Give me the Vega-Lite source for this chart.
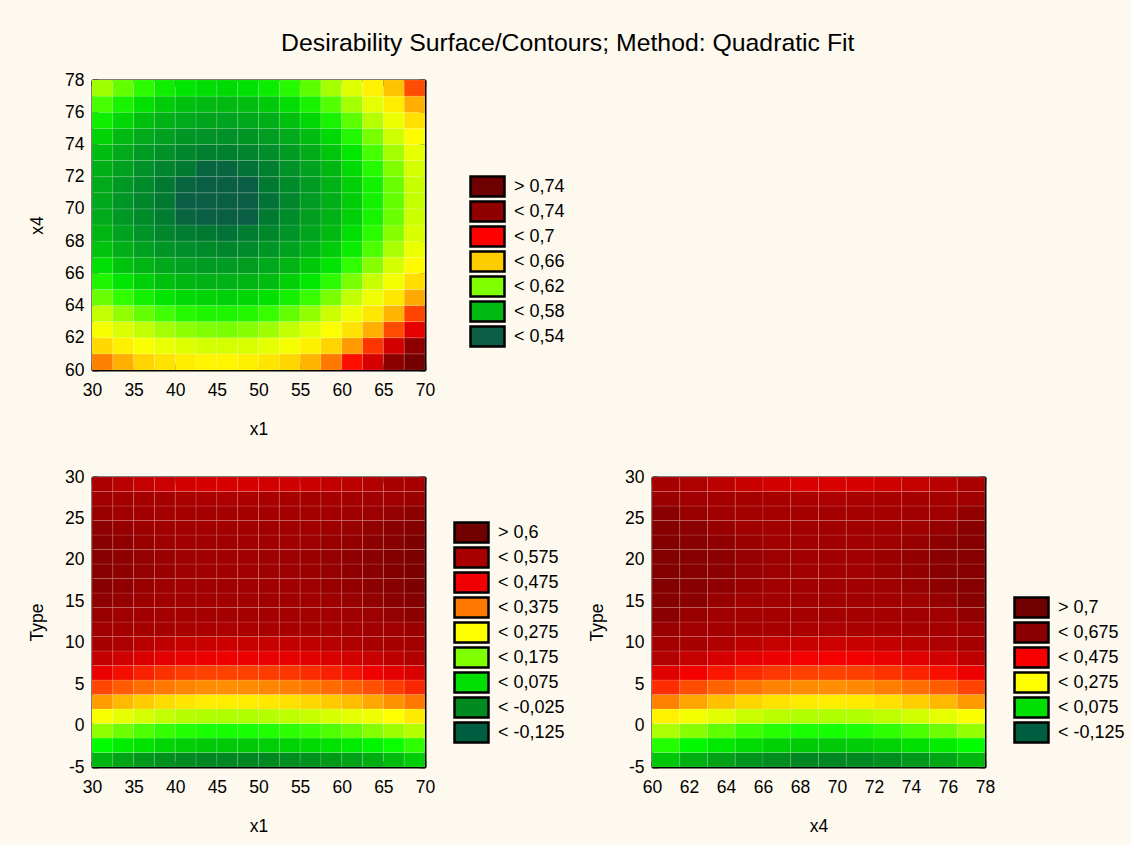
{
"$schema":"https://vega.github.io/schema/vega-lite/v6.json",
"background":"#FEF9EE",
"padding":{"left":28,"right":6,"top":31,"bottom":10},
"title":{"text":"Desirability Surface/Contours; Method: Quadratic Fit","font":"Liberation Sans","fontSize":24.8,"fontWeight":"normal","color":"black","anchor":"middle","offset":15,"dx":-9},
"datasets":{
"top":[
{"x1":31.25,"x4":60.5,"D":0.663},{"x1":33.75,"x4":60.5,"D":0.654},{"x1":36.25,"x4":60.5,"D":0.645},{"x1":38.75,"x4":60.5,"D":0.639},{"x1":41.25,"x4":60.5,"D":0.635},{"x1":43.75,"x4":60.5,"D":0.632},{"x1":46.25,"x4":60.5,"D":0.632},{"x1":48.75,"x4":60.5,"D":0.634},{"x1":51.25,"x4":60.5,"D":0.638},{"x1":53.75,"x4":60.5,"D":0.644},{"x1":56.25,"x4":60.5,"D":0.653},{"x1":58.75,"x4":60.5,"D":0.664},{"x1":61.25,"x4":60.5,"D":0.678},{"x1":63.75,"x4":60.5,"D":0.694},{"x1":66.25,"x4":60.5,"D":0.723},{"x1":68.75,"x4":60.5,"D":0.753},
{"x1":31.25,"x4":61.5,"D":0.643},{"x1":33.75,"x4":61.5,"D":0.634},{"x1":36.25,"x4":61.5,"D":0.626},{"x1":38.75,"x4":61.5,"D":0.621},{"x1":41.25,"x4":61.5,"D":0.617},{"x1":43.75,"x4":61.5,"D":0.614},{"x1":46.25,"x4":61.5,"D":0.614},{"x1":48.75,"x4":61.5,"D":0.615},{"x1":51.25,"x4":61.5,"D":0.619},{"x1":53.75,"x4":61.5,"D":0.625},{"x1":56.25,"x4":61.5,"D":0.634},{"x1":58.75,"x4":61.5,"D":0.645},{"x1":61.25,"x4":61.5,"D":0.658},{"x1":63.75,"x4":61.5,"D":0.673},{"x1":66.25,"x4":61.5,"D":0.695},{"x1":68.75,"x4":61.5,"D":0.72},
{"x1":31.25,"x4":62.5,"D":0.625},{"x1":33.75,"x4":62.5,"D":0.616},{"x1":36.25,"x4":62.5,"D":0.609},{"x1":38.75,"x4":62.5,"D":0.604},{"x1":41.25,"x4":62.5,"D":0.6},{"x1":43.75,"x4":62.5,"D":0.598},{"x1":46.25,"x4":62.5,"D":0.597},{"x1":48.75,"x4":62.5,"D":0.599},{"x1":51.25,"x4":62.5,"D":0.603},{"x1":53.75,"x4":62.5,"D":0.609},{"x1":56.25,"x4":62.5,"D":0.617},{"x1":58.75,"x4":62.5,"D":0.627},{"x1":61.25,"x4":62.5,"D":0.639},{"x1":63.75,"x4":62.5,"D":0.654},{"x1":66.25,"x4":62.5,"D":0.67},{"x1":68.75,"x4":62.5,"D":0.689},
{"x1":31.25,"x4":63.5,"D":0.609},{"x1":33.75,"x4":63.5,"D":0.601},{"x1":36.25,"x4":63.5,"D":0.594},{"x1":38.75,"x4":63.5,"D":0.589},{"x1":41.25,"x4":63.5,"D":0.585},{"x1":43.75,"x4":63.5,"D":0.583},{"x1":46.25,"x4":63.5,"D":0.583},{"x1":48.75,"x4":63.5,"D":0.584},{"x1":51.25,"x4":63.5,"D":0.588},{"x1":53.75,"x4":63.5,"D":0.594},{"x1":56.25,"x4":63.5,"D":0.601},{"x1":58.75,"x4":63.5,"D":0.611},{"x1":61.25,"x4":63.5,"D":0.623},{"x1":63.75,"x4":63.5,"D":0.637},{"x1":66.25,"x4":63.5,"D":0.653},{"x1":68.75,"x4":63.5,"D":0.671},
{"x1":31.25,"x4":64.5,"D":0.595},{"x1":33.75,"x4":64.5,"D":0.587},{"x1":36.25,"x4":64.5,"D":0.581},{"x1":38.75,"x4":64.5,"D":0.576},{"x1":41.25,"x4":64.5,"D":0.573},{"x1":43.75,"x4":64.5,"D":0.571},{"x1":46.25,"x4":64.5,"D":0.57},{"x1":48.75,"x4":64.5,"D":0.572},{"x1":51.25,"x4":64.5,"D":0.575},{"x1":53.75,"x4":64.5,"D":0.581},{"x1":56.25,"x4":64.5,"D":0.588},{"x1":58.75,"x4":64.5,"D":0.597},{"x1":61.25,"x4":64.5,"D":0.609},{"x1":63.75,"x4":64.5,"D":0.622},{"x1":66.25,"x4":64.5,"D":0.637},{"x1":68.75,"x4":64.5,"D":0.655},
{"x1":31.25,"x4":65.5,"D":0.583},{"x1":33.75,"x4":65.5,"D":0.576},{"x1":36.25,"x4":65.5,"D":0.57},{"x1":38.75,"x4":65.5,"D":0.565},{"x1":41.25,"x4":65.5,"D":0.562},{"x1":43.75,"x4":65.5,"D":0.56},{"x1":46.25,"x4":65.5,"D":0.56},{"x1":48.75,"x4":65.5,"D":0.561},{"x1":51.25,"x4":65.5,"D":0.564},{"x1":53.75,"x4":65.5,"D":0.57},{"x1":56.25,"x4":65.5,"D":0.577},{"x1":58.75,"x4":65.5,"D":0.586},{"x1":61.25,"x4":65.5,"D":0.597},{"x1":63.75,"x4":65.5,"D":0.61},{"x1":66.25,"x4":65.5,"D":0.624},{"x1":68.75,"x4":65.5,"D":0.641},
{"x1":31.25,"x4":66.5,"D":0.574},{"x1":33.75,"x4":66.5,"D":0.566},{"x1":36.25,"x4":66.5,"D":0.561},{"x1":38.75,"x4":66.5,"D":0.556},{"x1":41.25,"x4":66.5,"D":0.553},{"x1":43.75,"x4":66.5,"D":0.551},{"x1":46.25,"x4":66.5,"D":0.551},{"x1":48.75,"x4":66.5,"D":0.552},{"x1":51.25,"x4":66.5,"D":0.556},{"x1":53.75,"x4":66.5,"D":0.561},{"x1":56.25,"x4":66.5,"D":0.568},{"x1":58.75,"x4":66.5,"D":0.576},{"x1":61.25,"x4":66.5,"D":0.587},{"x1":63.75,"x4":66.5,"D":0.599},{"x1":66.25,"x4":66.5,"D":0.614},{"x1":68.75,"x4":66.5,"D":0.63},
{"x1":31.25,"x4":67.5,"D":0.566},{"x1":33.75,"x4":67.5,"D":0.559},{"x1":36.25,"x4":67.5,"D":0.553},{"x1":38.75,"x4":67.5,"D":0.549},{"x1":41.25,"x4":67.5,"D":0.546},{"x1":43.75,"x4":67.5,"D":0.545},{"x1":46.25,"x4":67.5,"D":0.544},{"x1":48.75,"x4":67.5,"D":0.545},{"x1":51.25,"x4":67.5,"D":0.549},{"x1":53.75,"x4":67.5,"D":0.554},{"x1":56.25,"x4":67.5,"D":0.56},{"x1":58.75,"x4":67.5,"D":0.569},{"x1":61.25,"x4":67.5,"D":0.579},{"x1":63.75,"x4":67.5,"D":0.591},{"x1":66.25,"x4":67.5,"D":0.605},{"x1":68.75,"x4":67.5,"D":0.621},
{"x1":31.25,"x4":68.5,"D":0.561},{"x1":33.75,"x4":68.5,"D":0.554},{"x1":36.25,"x4":68.5,"D":0.548},{"x1":38.75,"x4":68.5,"D":0.544},{"x1":41.25,"x4":68.5,"D":0.541},{"x1":43.75,"x4":68.5,"D":0.54},{"x1":46.25,"x4":68.5,"D":0.539},{"x1":48.75,"x4":68.5,"D":0.541},{"x1":51.25,"x4":68.5,"D":0.544},{"x1":53.75,"x4":68.5,"D":0.548},{"x1":56.25,"x4":68.5,"D":0.555},{"x1":58.75,"x4":68.5,"D":0.563},{"x1":61.25,"x4":68.5,"D":0.574},{"x1":63.75,"x4":68.5,"D":0.586},{"x1":66.25,"x4":68.5,"D":0.599},{"x1":68.75,"x4":68.5,"D":0.615},
{"x1":31.25,"x4":69.5,"D":0.557},{"x1":33.75,"x4":69.5,"D":0.55},{"x1":36.25,"x4":69.5,"D":0.545},{"x1":38.75,"x4":69.5,"D":0.541},{"x1":41.25,"x4":69.5,"D":0.538},{"x1":43.75,"x4":69.5,"D":0.536},{"x1":46.25,"x4":69.5,"D":0.536},{"x1":48.75,"x4":69.5,"D":0.537},{"x1":51.25,"x4":69.5,"D":0.54},{"x1":53.75,"x4":69.5,"D":0.545},{"x1":56.25,"x4":69.5,"D":0.552},{"x1":58.75,"x4":69.5,"D":0.56},{"x1":61.25,"x4":69.5,"D":0.57},{"x1":63.75,"x4":69.5,"D":0.582},{"x1":66.25,"x4":69.5,"D":0.595},{"x1":68.75,"x4":69.5,"D":0.611},
{"x1":31.25,"x4":70.5,"D":0.556},{"x1":33.75,"x4":70.5,"D":0.549},{"x1":36.25,"x4":70.5,"D":0.544},{"x1":38.75,"x4":70.5,"D":0.54},{"x1":41.25,"x4":70.5,"D":0.537},{"x1":43.75,"x4":70.5,"D":0.535},{"x1":46.25,"x4":70.5,"D":0.535},{"x1":48.75,"x4":70.5,"D":0.536},{"x1":51.25,"x4":70.5,"D":0.539},{"x1":53.75,"x4":70.5,"D":0.544},{"x1":56.25,"x4":70.5,"D":0.551},{"x1":58.75,"x4":70.5,"D":0.559},{"x1":61.25,"x4":70.5,"D":0.569},{"x1":63.75,"x4":70.5,"D":0.581},{"x1":66.25,"x4":70.5,"D":0.594},{"x1":68.75,"x4":70.5,"D":0.609},
{"x1":31.25,"x4":71.5,"D":0.557},{"x1":33.75,"x4":71.5,"D":0.55},{"x1":36.25,"x4":71.5,"D":0.545},{"x1":38.75,"x4":71.5,"D":0.54},{"x1":41.25,"x4":71.5,"D":0.538},{"x1":43.75,"x4":71.5,"D":0.536},{"x1":46.25,"x4":71.5,"D":0.536},{"x1":48.75,"x4":71.5,"D":0.537},{"x1":51.25,"x4":71.5,"D":0.54},{"x1":53.75,"x4":71.5,"D":0.545},{"x1":56.25,"x4":71.5,"D":0.551},{"x1":58.75,"x4":71.5,"D":0.56},{"x1":61.25,"x4":71.5,"D":0.57},{"x1":63.75,"x4":71.5,"D":0.581},{"x1":66.25,"x4":71.5,"D":0.595},{"x1":68.75,"x4":71.5,"D":0.61},
{"x1":31.25,"x4":72.5,"D":0.559},{"x1":33.75,"x4":72.5,"D":0.553},{"x1":36.25,"x4":72.5,"D":0.547},{"x1":38.75,"x4":72.5,"D":0.543},{"x1":41.25,"x4":72.5,"D":0.54},{"x1":43.75,"x4":72.5,"D":0.538},{"x1":46.25,"x4":72.5,"D":0.538},{"x1":48.75,"x4":72.5,"D":0.539},{"x1":51.25,"x4":72.5,"D":0.542},{"x1":53.75,"x4":72.5,"D":0.547},{"x1":56.25,"x4":72.5,"D":0.554},{"x1":58.75,"x4":72.5,"D":0.562},{"x1":61.25,"x4":72.5,"D":0.573},{"x1":63.75,"x4":72.5,"D":0.585},{"x1":66.25,"x4":72.5,"D":0.598},{"x1":68.75,"x4":72.5,"D":0.614},
{"x1":31.25,"x4":73.5,"D":0.564},{"x1":33.75,"x4":73.5,"D":0.557},{"x1":36.25,"x4":73.5,"D":0.551},{"x1":38.75,"x4":73.5,"D":0.547},{"x1":41.25,"x4":73.5,"D":0.544},{"x1":43.75,"x4":73.5,"D":0.542},{"x1":46.25,"x4":73.5,"D":0.542},{"x1":48.75,"x4":73.5,"D":0.543},{"x1":51.25,"x4":73.5,"D":0.546},{"x1":53.75,"x4":73.5,"D":0.551},{"x1":56.25,"x4":73.5,"D":0.558},{"x1":58.75,"x4":73.5,"D":0.567},{"x1":61.25,"x4":73.5,"D":0.577},{"x1":63.75,"x4":73.5,"D":0.59},{"x1":66.25,"x4":73.5,"D":0.604},{"x1":68.75,"x4":73.5,"D":0.62},
{"x1":31.25,"x4":74.5,"D":0.571},{"x1":33.75,"x4":74.5,"D":0.563},{"x1":36.25,"x4":74.5,"D":0.557},{"x1":38.75,"x4":74.5,"D":0.553},{"x1":41.25,"x4":74.5,"D":0.549},{"x1":43.75,"x4":74.5,"D":0.548},{"x1":46.25,"x4":74.5,"D":0.547},{"x1":48.75,"x4":74.5,"D":0.549},{"x1":51.25,"x4":74.5,"D":0.552},{"x1":53.75,"x4":74.5,"D":0.557},{"x1":56.25,"x4":74.5,"D":0.564},{"x1":58.75,"x4":74.5,"D":0.573},{"x1":61.25,"x4":74.5,"D":0.584},{"x1":63.75,"x4":74.5,"D":0.597},{"x1":66.25,"x4":74.5,"D":0.612},{"x1":68.75,"x4":74.5,"D":0.629},
{"x1":31.25,"x4":75.5,"D":0.58},{"x1":33.75,"x4":75.5,"D":0.572},{"x1":36.25,"x4":75.5,"D":0.565},{"x1":38.75,"x4":75.5,"D":0.56},{"x1":41.25,"x4":75.5,"D":0.557},{"x1":43.75,"x4":75.5,"D":0.555},{"x1":46.25,"x4":75.5,"D":0.554},{"x1":48.75,"x4":75.5,"D":0.556},{"x1":51.25,"x4":75.5,"D":0.559},{"x1":53.75,"x4":75.5,"D":0.565},{"x1":56.25,"x4":75.5,"D":0.572},{"x1":58.75,"x4":75.5,"D":0.582},{"x1":61.25,"x4":75.5,"D":0.593},{"x1":63.75,"x4":75.5,"D":0.607},{"x1":66.25,"x4":75.5,"D":0.622},{"x1":68.75,"x4":75.5,"D":0.64},
{"x1":31.25,"x4":76.5,"D":0.59},{"x1":33.75,"x4":76.5,"D":0.582},{"x1":36.25,"x4":76.5,"D":0.575},{"x1":38.75,"x4":76.5,"D":0.569},{"x1":41.25,"x4":76.5,"D":0.565},{"x1":43.75,"x4":76.5,"D":0.563},{"x1":46.25,"x4":76.5,"D":0.563},{"x1":48.75,"x4":76.5,"D":0.564},{"x1":51.25,"x4":76.5,"D":0.568},{"x1":53.75,"x4":76.5,"D":0.574},{"x1":56.25,"x4":76.5,"D":0.582},{"x1":58.75,"x4":76.5,"D":0.592},{"x1":61.25,"x4":76.5,"D":0.604},{"x1":63.75,"x4":76.5,"D":0.619},{"x1":66.25,"x4":76.5,"D":0.635},{"x1":68.75,"x4":76.5,"D":0.654},
{"x1":31.25,"x4":77.5,"D":0.603},{"x1":33.75,"x4":77.5,"D":0.594},{"x1":36.25,"x4":77.5,"D":0.586},{"x1":38.75,"x4":77.5,"D":0.58},{"x1":41.25,"x4":77.5,"D":0.576},{"x1":43.75,"x4":77.5,"D":0.574},{"x1":46.25,"x4":77.5,"D":0.573},{"x1":48.75,"x4":77.5,"D":0.575},{"x1":51.25,"x4":77.5,"D":0.579},{"x1":53.75,"x4":77.5,"D":0.585},{"x1":56.25,"x4":77.5,"D":0.593},{"x1":58.75,"x4":77.5,"D":0.604},{"x1":61.25,"x4":77.5,"D":0.617},{"x1":63.75,"x4":77.5,"D":0.633},{"x1":66.25,"x4":77.5,"D":0.65},{"x1":68.75,"x4":77.5,"D":0.67}
],
"left":[
{"x1":31.25,"Type":-4.125,"D":-0.021},{"x1":33.75,"Type":-4.125,"D":-0.04},{"x1":36.25,"Type":-4.125,"D":-0.055},{"x1":38.75,"Type":-4.125,"D":-0.067},{"x1":41.25,"Type":-4.125,"D":-0.075},{"x1":43.75,"Type":-4.125,"D":-0.08},{"x1":46.25,"Type":-4.125,"D":-0.081},{"x1":48.75,"Type":-4.125,"D":-0.08},{"x1":51.25,"Type":-4.125,"D":-0.076},{"x1":53.75,"Type":-4.125,"D":-0.071},{"x1":56.25,"Type":-4.125,"D":-0.064},{"x1":58.75,"Type":-4.125,"D":-0.054},{"x1":61.25,"Type":-4.125,"D":-0.043},{"x1":63.75,"Type":-4.125,"D":-0.029},{"x1":66.25,"Type":-4.125,"D":-0.013},{"x1":68.75,"Type":-4.125,"D":0.004},
{"x1":31.25,"Type":-2.375,"D":0.061},{"x1":33.75,"Type":-2.375,"D":0.042},{"x1":36.25,"Type":-2.375,"D":0.027},{"x1":38.75,"Type":-2.375,"D":0.015},{"x1":41.25,"Type":-2.375,"D":0.007},{"x1":43.75,"Type":-2.375,"D":0.002},{"x1":46.25,"Type":-2.375,"D":0.001},{"x1":48.75,"Type":-2.375,"D":0.002},{"x1":51.25,"Type":-2.375,"D":0.006},{"x1":53.75,"Type":-2.375,"D":0.011},{"x1":56.25,"Type":-2.375,"D":0.018},{"x1":58.75,"Type":-2.375,"D":0.028},{"x1":61.25,"Type":-2.375,"D":0.039},{"x1":63.75,"Type":-2.375,"D":0.053},{"x1":66.25,"Type":-2.375,"D":0.069},{"x1":68.75,"Type":-2.375,"D":0.086},
{"x1":31.25,"Type":-0.625,"D":0.135},{"x1":33.75,"Type":-0.625,"D":0.116},{"x1":36.25,"Type":-0.625,"D":0.101},{"x1":38.75,"Type":-0.625,"D":0.089},{"x1":41.25,"Type":-0.625,"D":0.081},{"x1":43.75,"Type":-0.625,"D":0.076},{"x1":46.25,"Type":-0.625,"D":0.075},{"x1":48.75,"Type":-0.625,"D":0.076},{"x1":51.25,"Type":-0.625,"D":0.08},{"x1":53.75,"Type":-0.625,"D":0.085},{"x1":56.25,"Type":-0.625,"D":0.092},{"x1":58.75,"Type":-0.625,"D":0.102},{"x1":61.25,"Type":-0.625,"D":0.113},{"x1":63.75,"Type":-0.625,"D":0.127},{"x1":66.25,"Type":-0.625,"D":0.143},{"x1":68.75,"Type":-0.625,"D":0.16},
{"x1":31.25,"Type":1.125,"D":0.216},{"x1":33.75,"Type":1.125,"D":0.197},{"x1":36.25,"Type":1.125,"D":0.182},{"x1":38.75,"Type":1.125,"D":0.17},{"x1":41.25,"Type":1.125,"D":0.162},{"x1":43.75,"Type":1.125,"D":0.157},{"x1":46.25,"Type":1.125,"D":0.156},{"x1":48.75,"Type":1.125,"D":0.157},{"x1":51.25,"Type":1.125,"D":0.161},{"x1":53.75,"Type":1.125,"D":0.166},{"x1":56.25,"Type":1.125,"D":0.173},{"x1":58.75,"Type":1.125,"D":0.183},{"x1":61.25,"Type":1.125,"D":0.194},{"x1":63.75,"Type":1.125,"D":0.208},{"x1":66.25,"Type":1.125,"D":0.224},{"x1":68.75,"Type":1.125,"D":0.241},
{"x1":31.25,"Type":2.875,"D":0.299},{"x1":33.75,"Type":2.875,"D":0.28},{"x1":36.25,"Type":2.875,"D":0.265},{"x1":38.75,"Type":2.875,"D":0.253},{"x1":41.25,"Type":2.875,"D":0.245},{"x1":43.75,"Type":2.875,"D":0.24},{"x1":46.25,"Type":2.875,"D":0.239},{"x1":48.75,"Type":2.875,"D":0.24},{"x1":51.25,"Type":2.875,"D":0.244},{"x1":53.75,"Type":2.875,"D":0.249},{"x1":56.25,"Type":2.875,"D":0.256},{"x1":58.75,"Type":2.875,"D":0.266},{"x1":61.25,"Type":2.875,"D":0.277},{"x1":63.75,"Type":2.875,"D":0.291},{"x1":66.25,"Type":2.875,"D":0.307},{"x1":68.75,"Type":2.875,"D":0.324},
{"x1":31.25,"Type":4.625,"D":0.37},{"x1":33.75,"Type":4.625,"D":0.351},{"x1":36.25,"Type":4.625,"D":0.336},{"x1":38.75,"Type":4.625,"D":0.324},{"x1":41.25,"Type":4.625,"D":0.316},{"x1":43.75,"Type":4.625,"D":0.311},{"x1":46.25,"Type":4.625,"D":0.31},{"x1":48.75,"Type":4.625,"D":0.311},{"x1":51.25,"Type":4.625,"D":0.315},{"x1":53.75,"Type":4.625,"D":0.32},{"x1":56.25,"Type":4.625,"D":0.327},{"x1":58.75,"Type":4.625,"D":0.337},{"x1":61.25,"Type":4.625,"D":0.348},{"x1":63.75,"Type":4.625,"D":0.362},{"x1":66.25,"Type":4.625,"D":0.378},{"x1":68.75,"Type":4.625,"D":0.395},
{"x1":31.25,"Type":6.375,"D":0.433},{"x1":33.75,"Type":6.375,"D":0.414},{"x1":36.25,"Type":6.375,"D":0.399},{"x1":38.75,"Type":6.375,"D":0.387},{"x1":41.25,"Type":6.375,"D":0.379},{"x1":43.75,"Type":6.375,"D":0.374},{"x1":46.25,"Type":6.375,"D":0.373},{"x1":48.75,"Type":6.375,"D":0.374},{"x1":51.25,"Type":6.375,"D":0.378},{"x1":53.75,"Type":6.375,"D":0.383},{"x1":56.25,"Type":6.375,"D":0.39},{"x1":58.75,"Type":6.375,"D":0.4},{"x1":61.25,"Type":6.375,"D":0.411},{"x1":63.75,"Type":6.375,"D":0.425},{"x1":66.25,"Type":6.375,"D":0.441},{"x1":68.75,"Type":6.375,"D":0.458},
{"x1":31.25,"Type":8.125,"D":0.489},{"x1":33.75,"Type":8.125,"D":0.47},{"x1":36.25,"Type":8.125,"D":0.455},{"x1":38.75,"Type":8.125,"D":0.443},{"x1":41.25,"Type":8.125,"D":0.435},{"x1":43.75,"Type":8.125,"D":0.43},{"x1":46.25,"Type":8.125,"D":0.429},{"x1":48.75,"Type":8.125,"D":0.43},{"x1":51.25,"Type":8.125,"D":0.434},{"x1":53.75,"Type":8.125,"D":0.439},{"x1":56.25,"Type":8.125,"D":0.446},{"x1":58.75,"Type":8.125,"D":0.456},{"x1":61.25,"Type":8.125,"D":0.467},{"x1":63.75,"Type":8.125,"D":0.481},{"x1":66.25,"Type":8.125,"D":0.497},{"x1":68.75,"Type":8.125,"D":0.514},
{"x1":31.25,"Type":9.875,"D":0.537},{"x1":33.75,"Type":9.875,"D":0.518},{"x1":36.25,"Type":9.875,"D":0.503},{"x1":38.75,"Type":9.875,"D":0.491},{"x1":41.25,"Type":9.875,"D":0.483},{"x1":43.75,"Type":9.875,"D":0.478},{"x1":46.25,"Type":9.875,"D":0.477},{"x1":48.75,"Type":9.875,"D":0.478},{"x1":51.25,"Type":9.875,"D":0.482},{"x1":53.75,"Type":9.875,"D":0.487},{"x1":56.25,"Type":9.875,"D":0.494},{"x1":58.75,"Type":9.875,"D":0.504},{"x1":61.25,"Type":9.875,"D":0.515},{"x1":63.75,"Type":9.875,"D":0.529},{"x1":66.25,"Type":9.875,"D":0.545},{"x1":68.75,"Type":9.875,"D":0.562},
{"x1":31.25,"Type":11.625,"D":0.578},{"x1":33.75,"Type":11.625,"D":0.559},{"x1":36.25,"Type":11.625,"D":0.544},{"x1":38.75,"Type":11.625,"D":0.532},{"x1":41.25,"Type":11.625,"D":0.524},{"x1":43.75,"Type":11.625,"D":0.519},{"x1":46.25,"Type":11.625,"D":0.518},{"x1":48.75,"Type":11.625,"D":0.519},{"x1":51.25,"Type":11.625,"D":0.523},{"x1":53.75,"Type":11.625,"D":0.528},{"x1":56.25,"Type":11.625,"D":0.535},{"x1":58.75,"Type":11.625,"D":0.545},{"x1":61.25,"Type":11.625,"D":0.556},{"x1":63.75,"Type":11.625,"D":0.57},{"x1":66.25,"Type":11.625,"D":0.586},{"x1":68.75,"Type":11.625,"D":0.603},
{"x1":31.25,"Type":13.375,"D":0.607},{"x1":33.75,"Type":13.375,"D":0.588},{"x1":36.25,"Type":13.375,"D":0.573},{"x1":38.75,"Type":13.375,"D":0.561},{"x1":41.25,"Type":13.375,"D":0.553},{"x1":43.75,"Type":13.375,"D":0.548},{"x1":46.25,"Type":13.375,"D":0.547},{"x1":48.75,"Type":13.375,"D":0.548},{"x1":51.25,"Type":13.375,"D":0.552},{"x1":53.75,"Type":13.375,"D":0.557},{"x1":56.25,"Type":13.375,"D":0.564},{"x1":58.75,"Type":13.375,"D":0.574},{"x1":61.25,"Type":13.375,"D":0.585},{"x1":63.75,"Type":13.375,"D":0.599},{"x1":66.25,"Type":13.375,"D":0.615},{"x1":68.75,"Type":13.375,"D":0.632},
{"x1":31.25,"Type":15.125,"D":0.628},{"x1":33.75,"Type":15.125,"D":0.609},{"x1":36.25,"Type":15.125,"D":0.594},{"x1":38.75,"Type":15.125,"D":0.582},{"x1":41.25,"Type":15.125,"D":0.574},{"x1":43.75,"Type":15.125,"D":0.569},{"x1":46.25,"Type":15.125,"D":0.568},{"x1":48.75,"Type":15.125,"D":0.569},{"x1":51.25,"Type":15.125,"D":0.573},{"x1":53.75,"Type":15.125,"D":0.578},{"x1":56.25,"Type":15.125,"D":0.585},{"x1":58.75,"Type":15.125,"D":0.595},{"x1":61.25,"Type":15.125,"D":0.606},{"x1":63.75,"Type":15.125,"D":0.62},{"x1":66.25,"Type":15.125,"D":0.636},{"x1":68.75,"Type":15.125,"D":0.653},
{"x1":31.25,"Type":16.875,"D":0.641},{"x1":33.75,"Type":16.875,"D":0.622},{"x1":36.25,"Type":16.875,"D":0.607},{"x1":38.75,"Type":16.875,"D":0.595},{"x1":41.25,"Type":16.875,"D":0.587},{"x1":43.75,"Type":16.875,"D":0.582},{"x1":46.25,"Type":16.875,"D":0.581},{"x1":48.75,"Type":16.875,"D":0.582},{"x1":51.25,"Type":16.875,"D":0.586},{"x1":53.75,"Type":16.875,"D":0.591},{"x1":56.25,"Type":16.875,"D":0.598},{"x1":58.75,"Type":16.875,"D":0.608},{"x1":61.25,"Type":16.875,"D":0.619},{"x1":63.75,"Type":16.875,"D":0.633},{"x1":66.25,"Type":16.875,"D":0.649},{"x1":68.75,"Type":16.875,"D":0.666},
{"x1":31.25,"Type":18.625,"D":0.647},{"x1":33.75,"Type":18.625,"D":0.628},{"x1":36.25,"Type":18.625,"D":0.613},{"x1":38.75,"Type":18.625,"D":0.601},{"x1":41.25,"Type":18.625,"D":0.593},{"x1":43.75,"Type":18.625,"D":0.588},{"x1":46.25,"Type":18.625,"D":0.587},{"x1":48.75,"Type":18.625,"D":0.588},{"x1":51.25,"Type":18.625,"D":0.592},{"x1":53.75,"Type":18.625,"D":0.597},{"x1":56.25,"Type":18.625,"D":0.604},{"x1":58.75,"Type":18.625,"D":0.614},{"x1":61.25,"Type":18.625,"D":0.625},{"x1":63.75,"Type":18.625,"D":0.639},{"x1":66.25,"Type":18.625,"D":0.655},{"x1":68.75,"Type":18.625,"D":0.672},
{"x1":31.25,"Type":20.375,"D":0.647},{"x1":33.75,"Type":20.375,"D":0.628},{"x1":36.25,"Type":20.375,"D":0.613},{"x1":38.75,"Type":20.375,"D":0.601},{"x1":41.25,"Type":20.375,"D":0.593},{"x1":43.75,"Type":20.375,"D":0.588},{"x1":46.25,"Type":20.375,"D":0.587},{"x1":48.75,"Type":20.375,"D":0.588},{"x1":51.25,"Type":20.375,"D":0.592},{"x1":53.75,"Type":20.375,"D":0.597},{"x1":56.25,"Type":20.375,"D":0.604},{"x1":58.75,"Type":20.375,"D":0.614},{"x1":61.25,"Type":20.375,"D":0.625},{"x1":63.75,"Type":20.375,"D":0.639},{"x1":66.25,"Type":20.375,"D":0.655},{"x1":68.75,"Type":20.375,"D":0.672},
{"x1":31.25,"Type":22.125,"D":0.641},{"x1":33.75,"Type":22.125,"D":0.622},{"x1":36.25,"Type":22.125,"D":0.607},{"x1":38.75,"Type":22.125,"D":0.595},{"x1":41.25,"Type":22.125,"D":0.587},{"x1":43.75,"Type":22.125,"D":0.582},{"x1":46.25,"Type":22.125,"D":0.581},{"x1":48.75,"Type":22.125,"D":0.582},{"x1":51.25,"Type":22.125,"D":0.586},{"x1":53.75,"Type":22.125,"D":0.591},{"x1":56.25,"Type":22.125,"D":0.598},{"x1":58.75,"Type":22.125,"D":0.608},{"x1":61.25,"Type":22.125,"D":0.619},{"x1":63.75,"Type":22.125,"D":0.633},{"x1":66.25,"Type":22.125,"D":0.649},{"x1":68.75,"Type":22.125,"D":0.666},
{"x1":31.25,"Type":23.875,"D":0.628},{"x1":33.75,"Type":23.875,"D":0.609},{"x1":36.25,"Type":23.875,"D":0.594},{"x1":38.75,"Type":23.875,"D":0.582},{"x1":41.25,"Type":23.875,"D":0.574},{"x1":43.75,"Type":23.875,"D":0.569},{"x1":46.25,"Type":23.875,"D":0.568},{"x1":48.75,"Type":23.875,"D":0.569},{"x1":51.25,"Type":23.875,"D":0.573},{"x1":53.75,"Type":23.875,"D":0.578},{"x1":56.25,"Type":23.875,"D":0.585},{"x1":58.75,"Type":23.875,"D":0.595},{"x1":61.25,"Type":23.875,"D":0.606},{"x1":63.75,"Type":23.875,"D":0.62},{"x1":66.25,"Type":23.875,"D":0.636},{"x1":68.75,"Type":23.875,"D":0.653},
{"x1":31.25,"Type":25.625,"D":0.607},{"x1":33.75,"Type":25.625,"D":0.588},{"x1":36.25,"Type":25.625,"D":0.573},{"x1":38.75,"Type":25.625,"D":0.561},{"x1":41.25,"Type":25.625,"D":0.553},{"x1":43.75,"Type":25.625,"D":0.548},{"x1":46.25,"Type":25.625,"D":0.547},{"x1":48.75,"Type":25.625,"D":0.548},{"x1":51.25,"Type":25.625,"D":0.552},{"x1":53.75,"Type":25.625,"D":0.557},{"x1":56.25,"Type":25.625,"D":0.564},{"x1":58.75,"Type":25.625,"D":0.574},{"x1":61.25,"Type":25.625,"D":0.585},{"x1":63.75,"Type":25.625,"D":0.599},{"x1":66.25,"Type":25.625,"D":0.615},{"x1":68.75,"Type":25.625,"D":0.632},
{"x1":31.25,"Type":27.375,"D":0.578},{"x1":33.75,"Type":27.375,"D":0.559},{"x1":36.25,"Type":27.375,"D":0.544},{"x1":38.75,"Type":27.375,"D":0.532},{"x1":41.25,"Type":27.375,"D":0.524},{"x1":43.75,"Type":27.375,"D":0.519},{"x1":46.25,"Type":27.375,"D":0.518},{"x1":48.75,"Type":27.375,"D":0.519},{"x1":51.25,"Type":27.375,"D":0.523},{"x1":53.75,"Type":27.375,"D":0.528},{"x1":56.25,"Type":27.375,"D":0.535},{"x1":58.75,"Type":27.375,"D":0.545},{"x1":61.25,"Type":27.375,"D":0.556},{"x1":63.75,"Type":27.375,"D":0.57},{"x1":66.25,"Type":27.375,"D":0.586},{"x1":68.75,"Type":27.375,"D":0.603},
{"x1":31.25,"Type":29.125,"D":0.52},{"x1":33.75,"Type":29.125,"D":0.501},{"x1":36.25,"Type":29.125,"D":0.486},{"x1":38.75,"Type":29.125,"D":0.474},{"x1":41.25,"Type":29.125,"D":0.466},{"x1":43.75,"Type":29.125,"D":0.461},{"x1":46.25,"Type":29.125,"D":0.46},{"x1":48.75,"Type":29.125,"D":0.461},{"x1":51.25,"Type":29.125,"D":0.465},{"x1":53.75,"Type":29.125,"D":0.47},{"x1":56.25,"Type":29.125,"D":0.477},{"x1":58.75,"Type":29.125,"D":0.487},{"x1":61.25,"Type":29.125,"D":0.498},{"x1":63.75,"Type":29.125,"D":0.512},{"x1":66.25,"Type":29.125,"D":0.528},{"x1":68.75,"Type":29.125,"D":0.545}
],
"right":[
{"x4":60.75,"Type":-4.125,"D":-0.051},{"x4":62.25,"Type":-4.125,"D":-0.076},{"x4":63.75,"Type":-4.125,"D":-0.096},{"x4":65.25,"Type":-4.125,"D":-0.112},{"x4":66.75,"Type":-4.125,"D":-0.123},{"x4":68.25,"Type":-4.125,"D":-0.129},{"x4":69.75,"Type":-4.125,"D":-0.131},{"x4":71.25,"Type":-4.125,"D":-0.128},{"x4":72.75,"Type":-4.125,"D":-0.12},{"x4":74.25,"Type":-4.125,"D":-0.107},{"x4":75.75,"Type":-4.125,"D":-0.09},{"x4":77.25,"Type":-4.125,"D":-0.068},
{"x4":60.75,"Type":-2.375,"D":0.031},{"x4":62.25,"Type":-2.375,"D":0.006},{"x4":63.75,"Type":-2.375,"D":-0.014},{"x4":65.25,"Type":-2.375,"D":-0.03},{"x4":66.75,"Type":-2.375,"D":-0.041},{"x4":68.25,"Type":-2.375,"D":-0.047},{"x4":69.75,"Type":-2.375,"D":-0.049},{"x4":71.25,"Type":-2.375,"D":-0.046},{"x4":72.75,"Type":-2.375,"D":-0.038},{"x4":74.25,"Type":-2.375,"D":-0.025},{"x4":75.75,"Type":-2.375,"D":-0.008},{"x4":77.25,"Type":-2.375,"D":0.014},
{"x4":60.75,"Type":-0.625,"D":0.105},{"x4":62.25,"Type":-0.625,"D":0.08},{"x4":63.75,"Type":-0.625,"D":0.06},{"x4":65.25,"Type":-0.625,"D":0.044},{"x4":66.75,"Type":-0.625,"D":0.033},{"x4":68.25,"Type":-0.625,"D":0.027},{"x4":69.75,"Type":-0.625,"D":0.025},{"x4":71.25,"Type":-0.625,"D":0.028},{"x4":72.75,"Type":-0.625,"D":0.036},{"x4":74.25,"Type":-0.625,"D":0.049},{"x4":75.75,"Type":-0.625,"D":0.066},{"x4":77.25,"Type":-0.625,"D":0.088},
{"x4":60.75,"Type":1.125,"D":0.186},{"x4":62.25,"Type":1.125,"D":0.161},{"x4":63.75,"Type":1.125,"D":0.141},{"x4":65.25,"Type":1.125,"D":0.125},{"x4":66.75,"Type":1.125,"D":0.114},{"x4":68.25,"Type":1.125,"D":0.108},{"x4":69.75,"Type":1.125,"D":0.106},{"x4":71.25,"Type":1.125,"D":0.109},{"x4":72.75,"Type":1.125,"D":0.117},{"x4":74.25,"Type":1.125,"D":0.13},{"x4":75.75,"Type":1.125,"D":0.147},{"x4":77.25,"Type":1.125,"D":0.169},
{"x4":60.75,"Type":2.875,"D":0.269},{"x4":62.25,"Type":2.875,"D":0.244},{"x4":63.75,"Type":2.875,"D":0.224},{"x4":65.25,"Type":2.875,"D":0.208},{"x4":66.75,"Type":2.875,"D":0.197},{"x4":68.25,"Type":2.875,"D":0.191},{"x4":69.75,"Type":2.875,"D":0.189},{"x4":71.25,"Type":2.875,"D":0.192},{"x4":72.75,"Type":2.875,"D":0.2},{"x4":74.25,"Type":2.875,"D":0.213},{"x4":75.75,"Type":2.875,"D":0.23},{"x4":77.25,"Type":2.875,"D":0.252},
{"x4":60.75,"Type":4.625,"D":0.34},{"x4":62.25,"Type":4.625,"D":0.315},{"x4":63.75,"Type":4.625,"D":0.295},{"x4":65.25,"Type":4.625,"D":0.279},{"x4":66.75,"Type":4.625,"D":0.268},{"x4":68.25,"Type":4.625,"D":0.262},{"x4":69.75,"Type":4.625,"D":0.26},{"x4":71.25,"Type":4.625,"D":0.263},{"x4":72.75,"Type":4.625,"D":0.271},{"x4":74.25,"Type":4.625,"D":0.284},{"x4":75.75,"Type":4.625,"D":0.301},{"x4":77.25,"Type":4.625,"D":0.323},
{"x4":60.75,"Type":6.375,"D":0.403},{"x4":62.25,"Type":6.375,"D":0.378},{"x4":63.75,"Type":6.375,"D":0.358},{"x4":65.25,"Type":6.375,"D":0.342},{"x4":66.75,"Type":6.375,"D":0.331},{"x4":68.25,"Type":6.375,"D":0.325},{"x4":69.75,"Type":6.375,"D":0.323},{"x4":71.25,"Type":6.375,"D":0.326},{"x4":72.75,"Type":6.375,"D":0.334},{"x4":74.25,"Type":6.375,"D":0.347},{"x4":75.75,"Type":6.375,"D":0.364},{"x4":77.25,"Type":6.375,"D":0.386},
{"x4":60.75,"Type":8.125,"D":0.459},{"x4":62.25,"Type":8.125,"D":0.434},{"x4":63.75,"Type":8.125,"D":0.414},{"x4":65.25,"Type":8.125,"D":0.398},{"x4":66.75,"Type":8.125,"D":0.387},{"x4":68.25,"Type":8.125,"D":0.381},{"x4":69.75,"Type":8.125,"D":0.379},{"x4":71.25,"Type":8.125,"D":0.382},{"x4":72.75,"Type":8.125,"D":0.39},{"x4":74.25,"Type":8.125,"D":0.403},{"x4":75.75,"Type":8.125,"D":0.42},{"x4":77.25,"Type":8.125,"D":0.442},
{"x4":60.75,"Type":9.875,"D":0.507},{"x4":62.25,"Type":9.875,"D":0.482},{"x4":63.75,"Type":9.875,"D":0.462},{"x4":65.25,"Type":9.875,"D":0.446},{"x4":66.75,"Type":9.875,"D":0.435},{"x4":68.25,"Type":9.875,"D":0.429},{"x4":69.75,"Type":9.875,"D":0.427},{"x4":71.25,"Type":9.875,"D":0.43},{"x4":72.75,"Type":9.875,"D":0.438},{"x4":74.25,"Type":9.875,"D":0.451},{"x4":75.75,"Type":9.875,"D":0.468},{"x4":77.25,"Type":9.875,"D":0.49},
{"x4":60.75,"Type":11.625,"D":0.548},{"x4":62.25,"Type":11.625,"D":0.523},{"x4":63.75,"Type":11.625,"D":0.503},{"x4":65.25,"Type":11.625,"D":0.487},{"x4":66.75,"Type":11.625,"D":0.476},{"x4":68.25,"Type":11.625,"D":0.47},{"x4":69.75,"Type":11.625,"D":0.468},{"x4":71.25,"Type":11.625,"D":0.471},{"x4":72.75,"Type":11.625,"D":0.479},{"x4":74.25,"Type":11.625,"D":0.492},{"x4":75.75,"Type":11.625,"D":0.509},{"x4":77.25,"Type":11.625,"D":0.531},
{"x4":60.75,"Type":13.375,"D":0.577},{"x4":62.25,"Type":13.375,"D":0.552},{"x4":63.75,"Type":13.375,"D":0.532},{"x4":65.25,"Type":13.375,"D":0.516},{"x4":66.75,"Type":13.375,"D":0.505},{"x4":68.25,"Type":13.375,"D":0.499},{"x4":69.75,"Type":13.375,"D":0.497},{"x4":71.25,"Type":13.375,"D":0.5},{"x4":72.75,"Type":13.375,"D":0.508},{"x4":74.25,"Type":13.375,"D":0.521},{"x4":75.75,"Type":13.375,"D":0.538},{"x4":77.25,"Type":13.375,"D":0.56},
{"x4":60.75,"Type":15.125,"D":0.598},{"x4":62.25,"Type":15.125,"D":0.573},{"x4":63.75,"Type":15.125,"D":0.553},{"x4":65.25,"Type":15.125,"D":0.537},{"x4":66.75,"Type":15.125,"D":0.526},{"x4":68.25,"Type":15.125,"D":0.52},{"x4":69.75,"Type":15.125,"D":0.518},{"x4":71.25,"Type":15.125,"D":0.521},{"x4":72.75,"Type":15.125,"D":0.529},{"x4":74.25,"Type":15.125,"D":0.542},{"x4":75.75,"Type":15.125,"D":0.559},{"x4":77.25,"Type":15.125,"D":0.581},
{"x4":60.75,"Type":16.875,"D":0.611},{"x4":62.25,"Type":16.875,"D":0.586},{"x4":63.75,"Type":16.875,"D":0.566},{"x4":65.25,"Type":16.875,"D":0.55},{"x4":66.75,"Type":16.875,"D":0.539},{"x4":68.25,"Type":16.875,"D":0.533},{"x4":69.75,"Type":16.875,"D":0.531},{"x4":71.25,"Type":16.875,"D":0.534},{"x4":72.75,"Type":16.875,"D":0.542},{"x4":74.25,"Type":16.875,"D":0.555},{"x4":75.75,"Type":16.875,"D":0.572},{"x4":77.25,"Type":16.875,"D":0.594},
{"x4":60.75,"Type":18.625,"D":0.617},{"x4":62.25,"Type":18.625,"D":0.592},{"x4":63.75,"Type":18.625,"D":0.572},{"x4":65.25,"Type":18.625,"D":0.556},{"x4":66.75,"Type":18.625,"D":0.545},{"x4":68.25,"Type":18.625,"D":0.539},{"x4":69.75,"Type":18.625,"D":0.537},{"x4":71.25,"Type":18.625,"D":0.54},{"x4":72.75,"Type":18.625,"D":0.548},{"x4":74.25,"Type":18.625,"D":0.561},{"x4":75.75,"Type":18.625,"D":0.578},{"x4":77.25,"Type":18.625,"D":0.6},
{"x4":60.75,"Type":20.375,"D":0.617},{"x4":62.25,"Type":20.375,"D":0.592},{"x4":63.75,"Type":20.375,"D":0.572},{"x4":65.25,"Type":20.375,"D":0.556},{"x4":66.75,"Type":20.375,"D":0.545},{"x4":68.25,"Type":20.375,"D":0.539},{"x4":69.75,"Type":20.375,"D":0.537},{"x4":71.25,"Type":20.375,"D":0.54},{"x4":72.75,"Type":20.375,"D":0.548},{"x4":74.25,"Type":20.375,"D":0.561},{"x4":75.75,"Type":20.375,"D":0.578},{"x4":77.25,"Type":20.375,"D":0.6},
{"x4":60.75,"Type":22.125,"D":0.611},{"x4":62.25,"Type":22.125,"D":0.586},{"x4":63.75,"Type":22.125,"D":0.566},{"x4":65.25,"Type":22.125,"D":0.55},{"x4":66.75,"Type":22.125,"D":0.539},{"x4":68.25,"Type":22.125,"D":0.533},{"x4":69.75,"Type":22.125,"D":0.531},{"x4":71.25,"Type":22.125,"D":0.534},{"x4":72.75,"Type":22.125,"D":0.542},{"x4":74.25,"Type":22.125,"D":0.555},{"x4":75.75,"Type":22.125,"D":0.572},{"x4":77.25,"Type":22.125,"D":0.594},
{"x4":60.75,"Type":23.875,"D":0.598},{"x4":62.25,"Type":23.875,"D":0.573},{"x4":63.75,"Type":23.875,"D":0.553},{"x4":65.25,"Type":23.875,"D":0.537},{"x4":66.75,"Type":23.875,"D":0.526},{"x4":68.25,"Type":23.875,"D":0.52},{"x4":69.75,"Type":23.875,"D":0.518},{"x4":71.25,"Type":23.875,"D":0.521},{"x4":72.75,"Type":23.875,"D":0.529},{"x4":74.25,"Type":23.875,"D":0.542},{"x4":75.75,"Type":23.875,"D":0.559},{"x4":77.25,"Type":23.875,"D":0.581},
{"x4":60.75,"Type":25.625,"D":0.577},{"x4":62.25,"Type":25.625,"D":0.552},{"x4":63.75,"Type":25.625,"D":0.532},{"x4":65.25,"Type":25.625,"D":0.516},{"x4":66.75,"Type":25.625,"D":0.505},{"x4":68.25,"Type":25.625,"D":0.499},{"x4":69.75,"Type":25.625,"D":0.497},{"x4":71.25,"Type":25.625,"D":0.5},{"x4":72.75,"Type":25.625,"D":0.508},{"x4":74.25,"Type":25.625,"D":0.521},{"x4":75.75,"Type":25.625,"D":0.538},{"x4":77.25,"Type":25.625,"D":0.56},
{"x4":60.75,"Type":27.375,"D":0.548},{"x4":62.25,"Type":27.375,"D":0.523},{"x4":63.75,"Type":27.375,"D":0.503},{"x4":65.25,"Type":27.375,"D":0.487},{"x4":66.75,"Type":27.375,"D":0.476},{"x4":68.25,"Type":27.375,"D":0.47},{"x4":69.75,"Type":27.375,"D":0.468},{"x4":71.25,"Type":27.375,"D":0.471},{"x4":72.75,"Type":27.375,"D":0.479},{"x4":74.25,"Type":27.375,"D":0.492},{"x4":75.75,"Type":27.375,"D":0.509},{"x4":77.25,"Type":27.375,"D":0.531},
{"x4":60.75,"Type":29.125,"D":0.49},{"x4":62.25,"Type":29.125,"D":0.465},{"x4":63.75,"Type":29.125,"D":0.445},{"x4":65.25,"Type":29.125,"D":0.429},{"x4":66.75,"Type":29.125,"D":0.418},{"x4":68.25,"Type":29.125,"D":0.412},{"x4":69.75,"Type":29.125,"D":0.41},{"x4":71.25,"Type":29.125,"D":0.413},{"x4":72.75,"Type":29.125,"D":0.421},{"x4":74.25,"Type":29.125,"D":0.434},{"x4":75.75,"Type":29.125,"D":0.451},{"x4":77.25,"Type":29.125,"D":0.473}
]
},
"bounds":"flush",
"spacing":107,
"resolve":{"scale":{"color":"independent"},"legend":{"color":"independent"}},
"vconcat":[
{
"width":333,"height":290,
"resolve":{"axis":{"x":"independent","y":"independent"}},
"layer":[
{"data":{"name":"top"},
"mark":{"type":"rect","width":20.8125,"height":16.111,"stroke":"#FFFFFF","strokeOpacity":0.22,"strokeWidth":0.6,"clip":true},
"encoding":{
"x":{"field":"x1","type":"quantitative","scale":{"domain":[30,70],"nice":false,"zero":false},"axis":{"orient":"bottom","values":[30,35,40,45,50,55,60,65,70],"title":"x1"}},
"y":{"field":"x4","type":"quantitative","scale":{"domain":[60,78],"nice":false,"zero":false},"axis":{"orient":"left","values":[60,62,64,66,68,70,72,74,76,78],"title":"x4"}},
"color":{"field":"D","type":"quantitative","scale":{"type":"linear","interpolate":"rgb","clamp":true,"domain":[0.535,0.5375,0.5395,0.546,0.553,0.561,0.569,0.577,0.587,0.598,0.61,0.628,0.648,0.662,0.68,0.718,0.76],"range":["#0A5E44","#0A5E44","#007832","#008E2A","#00A020","#00B414","#00CC08","#00E800","#30FF00","#80FF00","#C8FF00","#FFFF00","#FFCC00","#FF8800","#FF0000","#900000","#6E0000"]},
"legend":{"type":"symbol","values":[0.76,0.718,0.68,0.648,0.598,0.563,0.535],"orient":"none","legendX":386,"legendY":97,"title":null,"symbolType":"M-2.125,-1.25H2.125V1.25H-2.125Z","symbolSize":256,
"labelExpr":"datum.value > 0.75 ? '> 0,74' : datum.value > 0.7 ? '< 0,74' : datum.value > 0.66 ? '< 0,7' : datum.value > 0.62 ? '< 0,66' : datum.value > 0.58 ? '< 0,62' : datum.value > 0.55 ? '< 0,58' : '< 0,54'",
"encode":{"symbols":{"update":{"stroke":{"value":"black"},"strokeWidth":{"value":2.5},"strokeOpacity":{"value":1},"opacity":{"value":1}}}}}}
}},
{"data":{"values":[{}]},
"mark":{"type":"point","opacity":0},
"encoding":{
"x":{"datum":50,"type":"quantitative","scale":{"domain":[30,70],"nice":false,"zero":false},"axis":{"orient":"top","values":[30,35,40,45,50,55,60,65,70],"labels":false,"title":null}},
"y":{"datum":70,"type":"quantitative","scale":{"domain":[60,78],"nice":false,"zero":false},"axis":{"orient":"right","values":[60,62,64,66,68,70,72,74,76,78],"labels":false,"title":null}}
}}
]
},
{
"hconcat":[
{
"width":333,"height":290,
"resolve":{"axis":{"x":"independent","y":"independent"}},
"layer":[
{"data":{"name":"left"},
"mark":{"type":"rect","width":20.8125,"height":14.5,"stroke":"#FFFFFF","strokeOpacity":0.22,"strokeWidth":0.6,"clip":true},
"encoding":{
"x":{"field":"x1","type":"quantitative","scale":{"domain":[30,70],"nice":false,"zero":false},"axis":{"orient":"bottom","values":[30,35,40,45,50,55,60,65,70],"title":"x1"}},
"y":{"field":"Type","type":"quantitative","scale":{"domain":[-5,30],"nice":false,"zero":false},"axis":{"orient":"left","values":[-5,0,5,10,15,20,25,30],"title":"Type","labelExpr":"'' + datum.value"}},
"color":{"field":"D","type":"quantitative","scale":{"type":"linear","interpolate":"rgb","clamp":true,"domain":[-0.175,-0.12,-0.075,-0.025,0.025,0.065,0.125,0.19,0.225,0.275,0.325,0.375,0.425,0.48,0.525,0.59,0.625,0.7],"range":["#005E40","#006A35","#008A20","#00B010","#00E000","#00FF00","#80FF00","#E0FF00","#FFFF00","#FFC000","#FF7800","#FF4000","#F00000","#C80000","#A80000","#A00000","#900000","#700000"]},
"legend":{"type":"symbol","values":[0.7,0.525,0.425,0.325,0.225,0.125,0.025,-0.075,-0.175],"orient":"none","legendX":370,"legendY":46,"title":null,"symbolType":"M-2.125,-1.25H2.125V1.25H-2.125Z","symbolSize":256,
"labelExpr":"datum.value > 0.6 ? '> 0,6' : datum.value > 0.5 ? '< 0,575' : datum.value > 0.4 ? '< 0,475' : datum.value > 0.3 ? '< 0,375' : datum.value > 0.2 ? '< 0,275' : datum.value > 0.1 ? '< 0,175' : datum.value > 0 ? '< 0,075' : datum.value > -0.1 ? '< -0,025' : '< -0,125'",
"encode":{"symbols":{"update":{"stroke":{"value":"black"},"strokeWidth":{"value":2.5},"strokeOpacity":{"value":1},"opacity":{"value":1}}}}}}
}},
{"data":{"values":[{}]},
"mark":{"type":"point","opacity":0},
"encoding":{
"x":{"datum":50,"type":"quantitative","scale":{"domain":[30,70],"nice":false,"zero":false},"axis":{"orient":"top","values":[30,35,40,45,50,55,60,65,70],"labels":false,"title":null}},
"y":{"datum":10,"type":"quantitative","scale":{"domain":[-5,30],"nice":false,"zero":false},"axis":{"orient":"right","values":[-5,0,5,10,15,20,25,30],"labels":false,"title":null}}
}}
]
},
{
"width":333,"height":290,
"resolve":{"axis":{"x":"independent","y":"independent"}},
"layer":[
{"data":{"name":"right"},
"mark":{"type":"rect","width":27.75,"height":14.5,"stroke":"#FFFFFF","strokeOpacity":0.22,"strokeWidth":0.6,"clip":true},
"encoding":{
"x":{"field":"x4","type":"quantitative","scale":{"domain":[60,78],"nice":false,"zero":false},"axis":{"orient":"bottom","values":[60,62,64,66,68,70,72,74,76,78],"title":"x4"}},
"y":{"field":"Type","type":"quantitative","scale":{"domain":[-5,30],"nice":false,"zero":false},"axis":{"orient":"left","values":[-5,0,5,10,15,20,25,30],"title":"Type","labelExpr":"'' + datum.value"}},
"color":{"field":"D","type":"quantitative","scale":{"type":"linear","interpolate":"rgb","clamp":true,"domain":[-0.225,-0.17,-0.125,-0.075,-0.025,0.015,0.075,0.14,0.175,0.225,0.275,0.325,0.375,0.43,0.475,0.54,0.575,0.62,0.775],"range":["#005E40","#006A35","#008A20","#00B010","#00E000","#00FF00","#80FF00","#E0FF00","#FFFF00","#FFC000","#FF7800","#FF4000","#F80000","#C80000","#A80000","#A00000","#8A0000","#820000","#700000"]},
"legend":{"type":"symbol","values":[0.775,0.575,0.375,0.175,-0.025,-0.225],"orient":"none","legendX":370,"legendY":121,"title":null,"symbolType":"M-2.125,-1.25H2.125V1.25H-2.125Z","symbolSize":256,
"labelExpr":"datum.value > 0.7 ? '> 0,7' : datum.value > 0.5 ? '< 0,675' : datum.value > 0.3 ? '< 0,475' : datum.value > 0.1 ? '< 0,275' : datum.value > -0.1 ? '< 0,075' : '< -0,125'",
"encode":{"symbols":{"update":{"stroke":{"value":"black"},"strokeWidth":{"value":2.5},"strokeOpacity":{"value":1},"opacity":{"value":1}}}}}}
}},
{"data":{"values":[{}]},
"mark":{"type":"point","opacity":0},
"encoding":{
"x":{"datum":70,"type":"quantitative","scale":{"domain":[60,78],"nice":false,"zero":false},"axis":{"orient":"top","values":[60,62,64,66,68,70,72,74,76,78],"labels":false,"title":null}},
"y":{"datum":10,"type":"quantitative","scale":{"domain":[-5,30],"nice":false,"zero":false},"axis":{"orient":"right","values":[-5,0,5,10,15,20,25,30],"labels":false,"title":null}}
}}
]
}
],
"spacing":227,
"bounds":"flush",
"resolve":{"scale":{"color":"independent"},"legend":{"color":"independent"}}
}
],
"config":{
"font":"Liberation Sans",
"view":{"stroke":null},
"axis":{"domain":true,"domainColor":"black","domainWidth":2,"ticks":true,"tickColor":"black","tickWidth":1.5,"tickSize":-6,"grid":false,"labelFont":"Liberation Sans","labelFontSize":17.5,"labelColor":"black","labelFlush":false,"labelOverlap":false,"titleFont":"Liberation Sans","titleFontSize":17.5,"titleFontWeight":"normal","titleColor":"black","zindex":1},
"axisX":{"labelPadding":17,"titlePadding":22},
"axisY":{"labelPadding":14,"titlePadding":18},
"legend":{"labelFont":"Liberation Sans","labelFontSize":18,"labelColor":"black","labelOffset":17,"rowPadding":-8,"padding":0,"symbolStrokeColor":"black","symbolStrokeWidth":2.5,"symbolOpacity":1}
}
}
